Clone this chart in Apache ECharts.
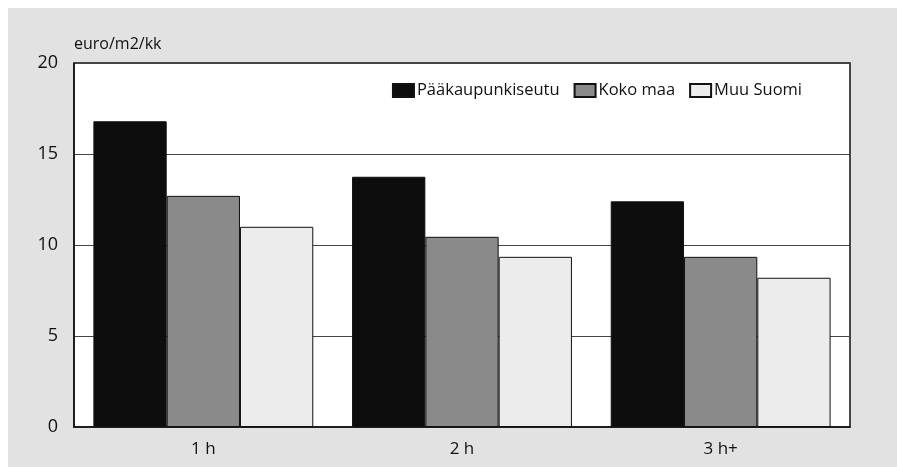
<!DOCTYPE html>
<html>
<head>
<meta charset="utf-8">
<script src="https://cdn.jsdelivr.net/npm/echarts@6/dist/echarts.min.js"></script>
<style>
html,body{margin:0;padding:0;background:#ffffff;}
#c{width:897px;height:467px;}
</style>
</head>
<body>
<div id="c"></div>
<script>
const categories = ['1 h', '2 h', '3 h+'];
const seriesNames = ['Pääkaupunkiseutu', 'Koko maa', 'Muu Suomi'];
const paakaupunkiseutu = [16.8, 13.75, 12.4];
const kokoMaa = [12.7, 10.45, 9.35];
const muuSuomi = [11.0, 9.35, 8.2];
const yTicks = [0, 5, 10, 15, 20];
const unitLabel = 'euro/m2/kk';

const colors = ['#0d0d0d', '#8a8a8a', '#ececec'];
const font = '"Open Sans", "Noto Sans", sans-serif';
const dataSets = [paakaupunkiseutu, kokoMaa, muuSuomi];

const chart = echarts.init(document.getElementById('c'), null, {renderer: 'canvas'});
chart.setOption({
  animation: false,
  backgroundColor: '#ffffff',
  graphic: [
    {type: 'rect', left: 8, top: 8, shape: {width: 889, height: 459}, style: {fill: '#e2e2e2'}, z: -10, silent: true},
    {type: 'text', left: 74, top: 36, style: {text: unitLabel, font: '16px ' + font, fill: '#111'}, z: 10}
  ],
  grid: {left: 74, right: 47, top: 63, bottom: 40, show: true, backgroundColor: '#ffffff', borderColor: '#111', borderWidth: 1.5},
  legend: {
    data: seriesNames,
    right: 90, top: 77,
    itemWidth: 21, itemHeight: 13, itemGap: 14,
    icon: 'rect',
    textStyle: {fontFamily: font, fontSize: 16.5, color: '#111', padding: [0, 0, 0, -2]}
  },
  xAxis: {
    type: 'category',
    data: categories,
    axisLine: {lineStyle: {color: '#111', width: 1.5}},
    axisTick: {show: false},
    axisLabel: {fontFamily: font, fontSize: 17, color: '#111', margin: 14}
  },
  yAxis: {
    type: 'value',
    min: yTicks[0], max: yTicks[yTicks.length - 1], interval: 5,
    axisLine: {show: true, lineStyle: {color: '#111', width: 1.5}},
    axisTick: {show: false},
    splitLine: {lineStyle: {color: '#444', width: 1}},
    axisLabel: {fontFamily: font, fontSize: 18, color: '#111', margin: 16}
  },
  series: seriesNames.map((n, i) => ({
    name: n,
    type: 'bar',
    data: dataSets[i],
    barGap: '0%',
    barCategoryGap: '15%',
    itemStyle: {color: colors[i], borderColor: '#111', borderWidth: 1}
  }))
});
</script>
</body>
</html>
